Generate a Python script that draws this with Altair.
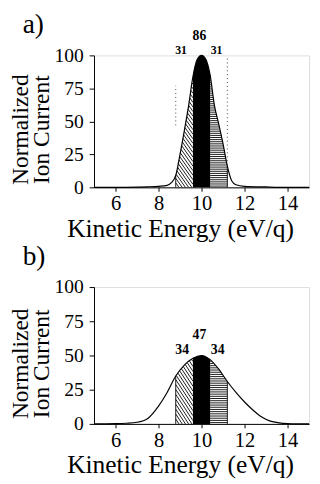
import altair as alt
import numpy as np
import pandas as pd

# ---- data ----
# panel a)
xa = [5, 6, 7, 7.5, 8, 8.4, 8.6, 8.8, 9.0, 9.2, 9.4, 9.6, 9.8, 10.0, 10.2, 10.4,
      10.6, 10.8, 11.0, 11.2, 11.4, 11.6, 12, 13, 14, 15]
ya = [0, 0, 0.2, 0.4, 0.8, 1.5, 3.5, 9, 25, 43, 62, 84, 97, 100, 97, 85,
      62, 48, 33, 16, 5, 2, 0.8, 0.3, 0, 0]
labels_a = ["31", "86", "31"]
lab_xa = [9.05, 9.9, 10.7]
lab_ya = [104, 115, 104]
lab_sa = [12, 14, 12]
art_x = [8.8, 11.2]
art_y1 = [47, 5]
art_y2 = [77, 99]

# panel b)
xb = [5, 6, 6.5, 7.0, 7.5, 8.0, 8.4, 8.8, 9.2, 9.6, 10.0, 10.4, 10.8, 11.2,
      11.6, 12.0, 12.4, 12.8, 13.2, 13.6, 14, 15]
yb = [0, 0.2, 0.5, 1.2, 4, 13, 23, 35, 43, 48, 50, 47, 40, 31,
      23, 16, 10, 5, 2, 0.8, 0.3, 0]
labels_b = ["34", "47", "34"]
lab_xb = [9.1, 9.9, 10.75]
lab_yb = [54, 65, 54]
lab_sb = [14, 14, 14]

edges = [8.8, 9.6, 10.4, 11.2]
x_ticks = [6, 8, 10, 12, 14]
y_ticks = [0, 25, 50, 75, 100]

FONT = "Liberation Serif"
W = 220


def diag_hatch(xs, ys, lo, hi, k, step):
    rows = []
    s = lo + step
    top = max(ys)
    while s < hi + top / k:
        right = min(hi, s)
        if right > lo:
            grid = np.linspace(lo, right, 600)
            line = k * (s - grid)
            f = np.interp(grid, xs, ys)
            ok = np.where(line <= f)[0]
            if len(ok):
                x1 = grid[ok[0]]
                rows.append({"x": x1, "y": k * (s - x1), "x2": right, "y2": k * (s - right)})
        s += step
    return pd.DataFrame(rows)


def horiz_hatch(xs, ys, lo, hi, step):
    rows = []
    fmax = float(np.interp(lo, xs, ys))
    h = step * 0.6
    while h < fmax:
        grid = np.linspace(lo, hi, 600)
        f = np.interp(grid, xs, ys)
        ok = np.where(f >= h)[0]
        if len(ok):
            rows.append({"x": lo, "y": h, "x2": grid[ok[-1]], "y2": h})
        h += step
    return pd.DataFrame(rows)


def panel(xs, ys, labels, lx, ly, ls, height, tag, kdiag, dstep, hstep, artifacts=None, toff=-10):
    curve = pd.DataFrame({"x": xs, "y": ys})
    xsc = alt.Scale(domain=[5, 15], nice=False, zero=False)
    ysc = alt.Scale(domain=[0, 100], nice=False)
    xax = alt.Axis(values=x_ticks, title="Kinetic Energy (eV/q)",
                   titleFontSize=26, titleFont=FONT, titleFontWeight="normal",
                   titleX=88, titleAlign="center",
                   labelFont=FONT, labelFontSize=21, tickSize=4, labelPadding=2,
                   titlePadding=2, grid=False, domainColor="black", tickColor="black",
                   labelColor="black", titleColor="black", labelOverlap=False)
    yax = alt.Axis(values=y_ticks, title=["Normalized", "Ion Current"],
                   titleFontSize=24, titleFont=FONT, titleFontWeight="normal",
                   titleLineHeight=21, titleY=height / 2 + 8,
                   labelFont=FONT, labelFontSize=20, tickSize=5,
                   labelPadding=6, titlePadding=1, grid=False, domainColor="black",
                   tickColor="black", labelColor="black", titleColor="black",
                   labelOverlap=False)
    X = alt.X("x:Q", scale=xsc, axis=xax)
    Y = alt.Y("y:Q", scale=ysc, axis=yax)

    line = alt.Chart(curve).mark_line(color="black", strokeWidth=1.2,
                                      interpolate="monotone").encode(x=X, y=Y)
    black = alt.Chart(curve[(curve.x >= edges[1]) & (curve.x <= edges[2])]).mark_area(
        color="black", interpolate="monotone").encode(x=X, y=Y)
    dh = diag_hatch(xs, ys, edges[0], edges[1], kdiag, dstep)
    hh = horiz_hatch(xs, ys, edges[2], edges[3], hstep)
    diag = alt.Chart(dh).mark_rule(color="black", strokeWidth=0.9).encode(
        x=X, y=Y, x2="x2:Q", y2="y2:Q")
    horiz = alt.Chart(hh).mark_rule(color="black", strokeWidth=0.9).encode(
        x=X, y=Y, x2="x2:Q", y2="y2:Q")
    sides = pd.DataFrame({"x": [edges[0], edges[3]],
                          "y": [float(np.interp(edges[0], xs, ys)),
                                float(np.interp(edges[3], xs, ys))],
                          "y0": [0, 0]})
    edge_l = alt.Chart(sides).mark_rule(color="black", strokeWidth=0.9).encode(
        x=X, y=Y, y2="y0:Q")
    txt = alt.Chart(pd.DataFrame({"t": labels, "x": lx, "y": ly, "s": ls})).mark_text(
        font=FONT, baseline="middle", color="black", fontWeight="bold").encode(
        x=X, y=Y, text="t:N", size=alt.Size("s:Q", scale=None, legend=None))
    layers = [diag, horiz, black, edge_l, line, txt]
    if artifacts is not None:
        art = alt.Chart(pd.DataFrame(artifacts)).mark_rule(
            color="#444", strokeWidth=1, strokeDash=[1, 3]).encode(
            x=X, y=alt.Y("y1:Q", scale=ysc, axis=yax), y2="y2:Q")
        layers.append(art)
    return alt.layer(*layers).properties(
        width=W, height=height,
        title=alt.TitleParams(tag, anchor="start", frame="group", dx=-73, offset=toff,
                              fontSize=28, font=FONT, fontWeight="normal", color="black"))


pa = panel(xa, ya, labels_a, lab_xa, lab_ya, lab_sa, 135, "a)", 23.0, 0.15, 1.6,
           artifacts={"x": art_x, "y1": art_y1, "y2": art_y2}, toff=-10)
pb = panel(xb, yb, labels_b, lab_xb, lab_yb, lab_sb, 140, "b)", 24.0, 0.15, 1.6, toff=7)

chart = alt.vconcat(pa, pb, spacing=0).properties(
    padding={"left": 0, "top": -3, "right": 0, "bottom": 0}
).configure_view(stroke=None).configure(background="white")

chart.save("out.html", embed_options={"renderer": "svg", "actions": False})
